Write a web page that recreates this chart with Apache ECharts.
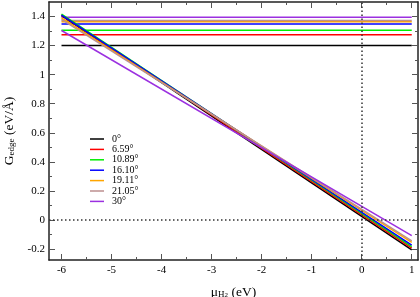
<!DOCTYPE html>
<html>
<head>
<meta charset="utf-8">
<script src="https://cdn.jsdelivr.net/npm/echarts@6/dist/echarts.min.js"></script>
<style>html,body{margin:0;padding:0;background:#fff}#c{width:420px;height:297px}</style>
</head>
<body>
<div id="c"></div>
<script>
// ---- data ----
var angles = ['0°', '6.59°', '10.89°', '16.10°', '19.11°', '21.05°', '30°'];
var muRange = [-6, 1];
var flatG = [1.2, 1.275, 1.305, 1.348, 1.364, 1.372, 1.395];
var slopeStartG = [1.407, 1.41, 1.417, 1.41, 1.39, 1.38, 1.304];
var slopeEndG = [-0.206, -0.194, -0.183, -0.172, -0.153, -0.144, -0.108];
var xTicks = [-6, -5, -4, -3, -2, -1, 0, 1];
var xMinor = [-5.5, -4.5, -3.5, -2.5, -1.5, -0.5, 0.5];
var yTicks = [-0.2, 0, 0.2, 0.4, 0.6, 0.8, 1, 1.2, 1.4];
var yMinor = [-0.1, 0.1, 0.3, 0.5, 0.7, 0.9, 1.1, 1.3];

// ---- styles ----
var colors = ['#000000', '#ff0000', '#00ee00', '#0000ff', '#ffa500', '#bc8f8f', '#9b30e0'];
var X_MIN = -6.25, X_MAX = 1.125, Y_MIN = -0.275, Y_MAX = 1.5;
var FONT = 'Liberation Serif';
var frameColor = '#222';

function mkAxis(isX, pos, values, len, showLine, showLabel) {
  return {
    type: 'value', position: pos,
    min: isX ? X_MIN : Y_MIN, max: isX ? X_MAX : Y_MAX,
    splitLine: {show: false},
    axisLine: {show: showLine, onZero: false, lineStyle: {color: frameColor, width: 1.5}},
    axisTick: {show: true, inside: true, length: len, customValues: values, lineStyle: {color: '#555', width: 1}},
    axisLabel: {show: showLabel, customValues: values, margin: isX ? 5 : 4, color: '#000', fontFamily: FONT, fontSize: 11},
    minorTick: {show: false}
  };
}

var xAxes = [
  mkAxis(true, 'bottom', xTicks, 6, true, true),
  mkAxis(true, 'bottom', xMinor, 3, false, false),
  mkAxis(true, 'top', xTicks, 6, true, false),
  mkAxis(true, 'top', xMinor, 3, false, false)
];
xAxes[0].name = '{a|μ}{s|H}{ss|2}{a| (eV)}';
xAxes[0].nameLocation = 'middle';
xAxes[0].nameGap = 19;
xAxes[0].nameTextStyle = {
  fontFamily: FONT, color: '#000', verticalAlign: 'top',
  rich: {
    a: {fontFamily: FONT, fontSize: 13.5, lineHeight: 13, verticalAlign: 'top', color: '#000'},
    s: {fontFamily: FONT, fontSize: 9, lineHeight: 9, padding: [7, 0, 0, 0], verticalAlign: 'bottom', color: '#000'},
    ss: {fontFamily: FONT, fontSize: 7, lineHeight: 7, padding: [11, 0, 0, 0], verticalAlign: 'bottom', color: '#000'}
  }
};

var yAxes = [
  mkAxis(false, 'left', yTicks, 6, true, true),
  mkAxis(false, 'left', yMinor, 3, false, false),
  mkAxis(false, 'right', yTicks, 6, true, false),
  mkAxis(false, 'right', yMinor, 3, false, false)
];
yAxes[0].name = '{a|G}{s|edge}{a| (eV/Å)}';
yAxes[0].nameLocation = 'middle';
yAxes[0].nameRotate = 90;
yAxes[0].nameGap = 26;
yAxes[0].nameTextStyle = {
  fontFamily: FONT, color: '#000',
  rich: {
    a: {fontFamily: FONT, fontSize: 13.5, lineHeight: 13, verticalAlign: 'top', color: '#000'},
    s: {fontFamily: FONT, fontSize: 9, lineHeight: 9, padding: [7, 0, 0, 0], verticalAlign: 'bottom', color: '#000'}
  }
};

var series = [];
angles.forEach(function (name, i) {
  series.push({
    name: name, type: 'line', symbol: 'none', xAxisIndex: 0, yAxisIndex: 0,
    color: colors[i], lineStyle: {color: colors[i], width: 1.5},
    data: [[muRange[0], flatG[i]], [muRange[1], flatG[i]]],
    z: 2
  });
});
angles.forEach(function (name, i) {
  series.push({
    name: name, type: 'line', symbol: 'none', xAxisIndex: 0, yAxisIndex: 0,
    color: colors[i], lineStyle: {color: colors[i], width: 1.5},
    data: [[muRange[0], slopeStartG[i]], [muRange[1], slopeEndG[i]]],
    z: 2
  });
});
series[0].markLine = {
  silent: true, symbol: 'none', animation: false,
  label: {show: false},
  lineStyle: {color: '#333', width: 1.5, type: [1.5, 2.5]},
  data: [{xAxis: 0}, {yAxis: 0}]
};

var chart = echarts.init(document.getElementById('c'), null, {renderer: 'canvas'});
chart.setOption({
  animation: false,
  backgroundColor: '#fff',
  grid: {left: 49, right: 2, top: 2, bottom: 37, containLabel: false, outerBoundsMode: 'none'},
  xAxis: xAxes,
  yAxis: yAxes,
  legend: {
    data: angles, orient: 'vertical', left: 90, top: 134,
    padding: 0,
    itemWidth: 14, itemHeight: 8, itemGap: 0.4,
    icon: 'path://M0,4 L14,4 L14,5.5 L0,5.5 Z',
    selectedMode: false,
    textStyle: {fontFamily: FONT, fontSize: 10, lineHeight: 10, color: '#000', padding: [0, 0, 0, 3]}
  },
  series: series
});
</script>
</body>
</html>
